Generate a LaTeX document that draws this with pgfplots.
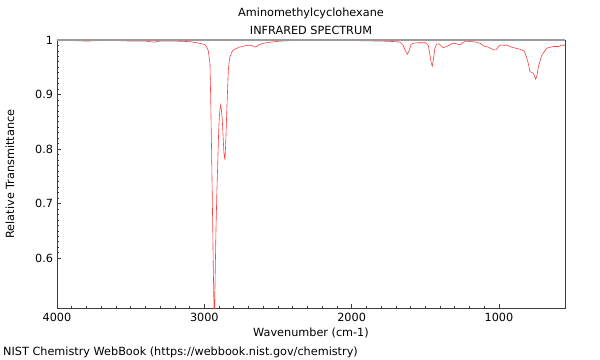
\documentclass[border=0pt]{standalone}
\usepackage{fontspec}
\setmainfont{DejaVu Sans}
\usepackage{pgfplots}
\pgfplotsset{compat=1.18}
\definecolor{irred}{RGB}{255,60,60}
\definecolor{topgray}{RGB}{155,155,155}
\definecolor{axgray}{RGB}{60,60,60}
\begin{document}
\fontsize{11.3}{13}\selectfont
\begin{tikzpicture}
\useasboundingbox (0,0) rectangle (600bp,360bp);
\begin{axis}[
  at={(57bp,51.7bp)}, anchor=south west,
  scale only axis, width=508.3bp, height=268.3bp,
  x dir=reverse, xmin=550, xmax=4000, ymin=0.508, ymax=1,
  xtick={1000,2000,3000,4000}, ytick={0.6,0.7,0.8,0.9,1},
  minor x tick num=9, minor y tick num=9,
  tick align=inside, xtick pos=left, ytick pos=left,
  major tick length=4bp, minor tick length=2bp,
  axis line style={axgray, line width=0.8bp},
  every tick/.style={axgray, line width=0.7bp},
  /pgf/number format/assume math mode=true,
  /pgf/number format/1000 sep={},
  ticklabel style={font=\fontsize{11.3}{13}\selectfont},
  xticklabel style={yshift=-1bp},
]
\addplot[irred, line width=0.6bp] coordinates {
(4000,0.999) (3900,0.999) (3800,0.998) (3700,0.999) (3600,0.999) (3500,0.998)
(3400,0.998) (3343,0.996) (3300,0.998) (3200,0.998) (3100,0.997) (3050,0.995)
(3020,0.993) (3000,0.992) (2985,0.988) (2973,0.980) (2962,0.958) (2957,0.896)
(2951,0.80) (2946,0.713) (2939,0.58) (2932,0.47) (2927,0.56) (2921,0.651)
(2915,0.72) (2909,0.774) (2903,0.83) (2898,0.859) (2893,0.876) (2889,0.881)
(2884,0.872) (2878,0.853) (2872,0.82) (2867,0.793) (2860,0.780) (2855,0.81)
(2848,0.866) (2842,0.91) (2837,0.945) (2830,0.963) (2826,0.969) (2815,0.977)
(2803,0.982) (2760,0.987) (2712,0.990) (2680,0.990) (2651,0.987) (2630,0.991)
(2600,0.994) (2550,0.996) (2486,0.998) (2400,0.999) (2200,0.999) (2000,0.999)
(1800,0.998) (1700,0.997) (1672,0.996) (1650,0.990) (1635,0.980) (1622,0.974)
(1610,0.980) (1597,0.992) (1582,0.994) (1550,0.995) (1500,0.995) (1480,0.990)
(1470,0.975) (1460,0.958) (1453,0.952) (1445,0.965) (1435,0.985) (1423,0.993)
(1410,0.993) (1400,0.991) (1378,0.986) (1355,0.988) (1321,0.993) (1299,0.994)
(1265,0.991) (1240,0.996) (1224,0.998) (1190,0.997) (1151,0.996) (1129,0.994)
(1095,0.988) (1073,0.987) (1039,0.982) (1020,0.982) (993,0.991) (959,0.990)
(948,0.991) (925,0.988) (903,0.986) (857,0.983) (830,0.980) (815,0.970)
(801,0.957) (790,0.942) (767,0.939) (751,0.928) (742,0.935) (733,0.951)
(710,0.972) (676,0.985) (631,0.988) (597,0.988) (574,0.991) (560,0.990) (550,0.991)
};
\draw[topgray, line width=2bp] (rel axis cs:0,1) -- (rel axis cs:1,1);
\end{axis}
\node at (311bp,346.5bp) {Aminomethylcyclohexane};
\node at (311bp,329.5bp) {INFRARED SPECTRUM};
\node at (311bp,27.5bp) {Wavenumber (cm-1)};
\node[rotate=90] at (10bp,186bp) {Relative Transmittance};
\node[anchor=west, inner sep=0pt] at (3bp,7.5bp) {NIST Chemistry WebBook (https://webbook.nist.gov/chemistry)};
\end{tikzpicture}
\end{document}
